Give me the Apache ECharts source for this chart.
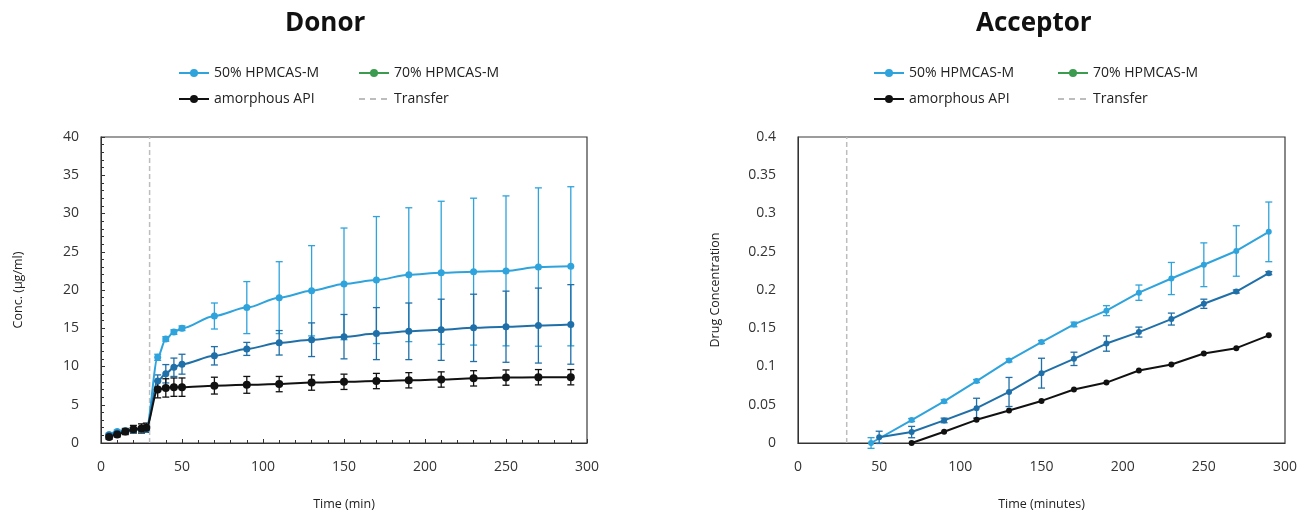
<!DOCTYPE html>
<html>
<head>
<meta charset="utf-8">
<script src="https://cdn.jsdelivr.net/npm/echarts@6/dist/echarts.min.js"></script>
<style>
html,body{margin:0;padding:0;background:#fff;}
#c{width:1301px;height:516px;}
</style>
</head>
<body>
<div id="c"></div>
<script>
// ---------- Donor data ----------
const donorTime = [5,10,15,20,25,28,35,40,45,50,70,90,110,130,150,170,190,210,230,250,270,290];
const donor50 = [1.1,1.5,1.6,1.7,1.8,1.8,11.2,13.6,14.5,15.0,16.6,17.7,19.0,19.9,20.8,21.3,22.0,22.25,22.4,22.5,23.0,23.1];
const donor50Err = [0.2,0.2,0.2,0.3,0.3,0.3,0.4,0.3,0.3,0.3,1.7,3.4,4.7,5.9,7.3,8.3,8.75,9.35,9.6,9.8,10.35,10.4];
const donor70 = [1.0,1.3,1.5,1.7,1.8,1.9,8.1,9.05,9.9,10.3,11.4,12.3,13.1,13.5,13.9,14.3,14.6,14.8,15.05,15.2,15.35,15.5];
const donor70Err = [0.2,0.2,0.2,0.3,0.3,0.3,0.8,1.2,1.2,1.3,1.2,0.85,1.6,2.2,2.9,3.4,3.7,4.0,4.4,4.65,4.9,5.2];
const donorAmorph = [0.8,1.1,1.5,1.8,1.9,2.0,7.0,7.2,7.3,7.3,7.5,7.6,7.7,7.9,8.0,8.1,8.2,8.3,8.45,8.55,8.6,8.6];
const donorAmorphErr = [0.3,0.3,0.4,0.5,0.6,0.6,1.1,1.2,1.2,1.2,1.1,1.1,1.0,1.0,1.0,1.0,1.0,1.0,1.0,1.0,1.0,1.0];

// ---------- Acceptor data ----------
const acc50Time = [45,70,90,110,130,150,170,190,210,230,250,270,290];
const acc50 = [0,0.030,0.0545,0.081,0.108,0.132,0.155,0.173,0.1965,0.215,0.233,0.251,0.276];
const acc50Err = [0.007,0.002,0.002,0.002,0.002,0.002,0.003,0.0065,0.010,0.021,0.0286,0.033,0.039];
const acc70Time = [50,70,90,110,130,150,170,190,210,230,250,270,290];
const acc70 = [0.0074,0.0143,0.0295,0.0455,0.0667,0.0913,0.110,0.130,0.145,0.162,0.182,0.198,0.222];
const acc70Err = [0.008,0.0074,0.003,0.013,0.019,0.0195,0.0087,0.010,0.0065,0.0078,0.006,0.002,0.002];
const accAmorphTime = [70,90,110,130,150,170,190,210,230,250,270,290];
const accAmorph = [0,0.0147,0.0303,0.0424,0.055,0.070,0.079,0.0948,0.1026,0.117,0.124,0.1407];

// ---------- Labels ----------
const titles = ['Donor','Acceptor'];
const seriesNames = ['50% HPMCAS-M','70% HPMCAS-M','amorphous API','Transfer'];
const transferTime = 30;

const C50 = '#2ea3dc', C70 = '#1f6fa8', CAM = '#111111', CTR = '#bdbdbd', CLEG70 = '#3b9b4f';
const FONT = 'Open Sans';

function pairs(t, v){ return t.map((x,i)=>[x, v[i]]); }

function errSeries(name, axisIdx, t, v, e, color, capW){
  return {
    name: name, type: 'custom', xAxisIndex: axisIdx, yAxisIndex: axisIdx,
    data: t.map((x,i)=>[x, v[i]-e[i], v[i]+e[i]]),
    encode: {x: 0, y: [1,2]},
    z: 1, silent: true,
    renderItem: function(params, api){
      const x = api.value(0);
      const p1 = api.coord([x, api.value(1)]);
      const p2 = api.coord([x, api.value(2)]);
      const h = capW/2;
      const st = {stroke: color, lineWidth: 1.3};
      return {type:'group', children:[
        {type:'line', shape:{x1:p1[0],y1:p1[1],x2:p2[0],y2:p2[1]}, style: st},
        {type:'line', shape:{x1:p1[0]-h,y1:p1[1],x2:p1[0]+h,y2:p1[1]}, style: st},
        {type:'line', shape:{x1:p2[0]-h,y1:p2[1],x2:p2[0]+h,y2:p2[1]}, style: st}
      ]};
    }
  };
}

function lineSeries(name, axisIdx, data, color, size, smooth){
  return {
    name: name, type: 'line', xAxisIndex: axisIdx, yAxisIndex: axisIdx,
    data: data, symbol: 'circle', symbolSize: size, smooth: smooth,
    smoothMonotone: 'x',
    itemStyle: {color: color}, lineStyle: {color: color, width: 2},
    z: 3
  };
}

function transferSeries(axisIdx, ymax){
  return {
    name: 'Transfer', type: 'line', xAxisIndex: axisIdx, yAxisIndex: axisIdx,
    data: [[transferTime, 0],[transferTime, ymax]], symbol: 'none',
    itemStyle: {color: CTR},
    lineStyle: {color: CTR, width: 1.5, type: [5,3]}, z: 2
  };
}

function legendItem(n){
  if (n === '70% HPMCAS-M') return {name: n, itemStyle: {color: CLEG70}, lineStyle: {color: CLEG70}};
  if (n === 'Transfer') return {name: n, itemStyle: {opacity: 0}, lineStyle: {color: CTR, type: [6,5], width: 2}};
  return {name: n};
}

function legend(left, names){
  return {
    left: left, top: 66, orient: 'vertical', padding: 0, itemGap: 12,
    itemWidth: 30, itemHeight: 10,
    textStyle: {fontFamily: FONT, fontSize: 14, color: '#222'},
    data: names.map(legendItem)
  };
}

const axisLabelStyle = {fontFamily: FONT, fontSize: 14, color: '#333'};
const nameStyle = {fontFamily: FONT, fontSize: 12.5, color: '#222', fontWeight: 500};

const option = {
  animation: false,
  backgroundColor: '#fff',
  graphic: [
    {type:'text', left: 285, top: 11, style:{text: titles[0], font: 'bold 26px "' + FONT + '"', fill: '#111'}},
    {type:'text', left: 976, top: 11, style:{text: titles[1], font: 'bold 26px "' + FONT + '"', fill: '#111'}}
  ],
  legend: [
    legend(178, [seriesNames[0], seriesNames[2]]),
    legend(358, [seriesNames[1], seriesNames[3]]),
    legend(873, [seriesNames[0], seriesNames[2]]),
    legend(1057, [seriesNames[1], seriesNames[3]])
  ],
  grid: [
    {left: 101, right: 714, top: 137, bottom: 70, show: true, borderColor: '#3a3a3a', borderWidth: 1.2, backgroundColor: '#fff'},
    {left: 798, right: 16, top: 137, bottom: 71, show: true, borderColor: '#3a3a3a', borderWidth: 1.2, backgroundColor: '#fff'}
  ],
  xAxis: [
    {type: 'value', gridIndex: 0, min: 0, max: 300, interval: 50,
     name: 'Time (min)', nameLocation: 'middle', nameGap: 55, nameTextStyle: nameStyle,
     axisLine: {show: true, lineStyle: {color: '#333'}},
     axisTick: {show: true, inside: true, length: 4, lineStyle: {color: '#333'}},
     minorTick: {show: true, splitNumber: 5, length: 3, lineStyle: {color: '#333'}},
     axisLabel: Object.assign({margin: 17}, axisLabelStyle), splitLine: {show: false}},
    {type: 'value', gridIndex: 1, min: 0, max: 300, interval: 50,
     name: 'Time (minutes)', nameLocation: 'middle', nameGap: 55, nameTextStyle: nameStyle,
     axisLine: {show: true, lineStyle: {color: '#333'}},
     axisTick: {show: false},
     axisLabel: Object.assign({margin: 17}, axisLabelStyle), splitLine: {show: false}}
  ],
  yAxis: [
    {type: 'value', gridIndex: 0, min: 0, max: 40, interval: 5,
     name: 'Conc. (µg/ml)', nameLocation: 'middle', nameGap: 76, nameTextStyle: nameStyle,
     axisLine: {show: true, lineStyle: {color: '#333'}},
     axisTick: {show: true, inside: true, length: 4, lineStyle: {color: '#333'}},
     minorTick: {show: true, splitNumber: 5, length: 3, lineStyle: {color: '#333'}},
     axisLabel: Object.assign({margin: 22}, axisLabelStyle), splitLine: {show: false}},
    {type: 'value', gridIndex: 1, min: 0, max: 0.4, interval: 0.05,
     name: 'Drug Concentration', nameLocation: 'middle', nameGap: 76, nameTextStyle: nameStyle,
     axisLine: {show: true, lineStyle: {color: '#333'}},
     axisTick: {show: false},
     axisLabel: Object.assign({margin: 22}, axisLabelStyle), splitLine: {show: false}}
  ],
  series: [
    transferSeries(0, 40),
    errSeries('e50d', 0, donorTime, donor50, donor50Err, C50, 7),
    lineSeries(seriesNames[0], 0, pairs(donorTime, donor50), C50, 7, 0.3),
    errSeries('e70d', 0, donorTime, donor70, donor70Err, C70, 7),
    lineSeries(seriesNames[1], 0, pairs(donorTime, donor70), C70, 7, 0.3),
    errSeries('eamd', 0, donorTime, donorAmorph, donorAmorphErr, CAM, 7),
    lineSeries(seriesNames[2], 0, pairs(donorTime, donorAmorph), CAM, 8, 0.3),

    transferSeries(1, 0.4),
    errSeries('e50a', 1, acc50Time, acc50, acc50Err, C50, 7),
    lineSeries(seriesNames[0], 1, pairs(acc50Time, acc50), C50, 6, false),
    errSeries('e70a', 1, acc70Time, acc70, acc70Err, C70, 7),
    lineSeries(seriesNames[1], 1, pairs(acc70Time, acc70), C70, 6, false),
    lineSeries(seriesNames[2], 1, pairs(accAmorphTime, accAmorph), CAM, 6, false)
  ]
};

const chart = echarts.init(document.getElementById('c'), null, {renderer: 'canvas'});
chart.setOption(option);
</script>
</body>
</html>
